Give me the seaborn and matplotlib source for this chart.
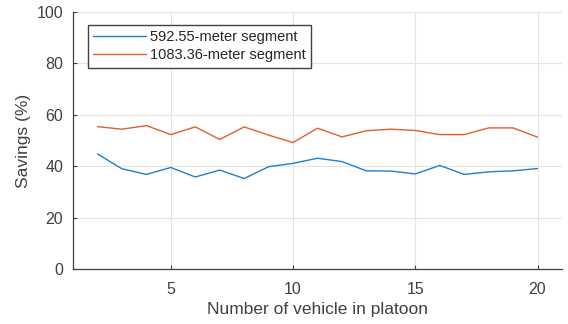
import matplotlib
matplotlib.use("Agg")
import matplotlib.pyplot as plt
import seaborn as sns
import pandas as pd

vehicles = list(range(2, 21))
savings_592 = [44.8, 39.0, 36.8, 39.5, 35.8, 38.5, 35.2, 39.8, 41.1, 43.1,
               41.8, 38.2, 38.1, 37.0, 40.3, 36.8, 37.8, 38.2, 39.1]
savings_1083 = [55.4, 54.4, 55.8, 52.3, 55.3, 50.4, 55.3, 52.1, 49.2, 54.8,
                51.4, 53.8, 54.4, 53.9, 52.3, 52.3, 54.9, 54.9, 51.3]
series_names = ["592.55-meter segment", "1083.36-meter segment"]
series_colors = ["#1f7fcc", "#e05f2c"]

df = pd.concat([
    pd.DataFrame({"n": vehicles, "savings": savings_592, "segment": series_names[0]}),
    pd.DataFrame({"n": vehicles, "savings": savings_1083, "segment": series_names[1]}),
])

sns.set_theme(style="whitegrid")
plt.rcParams["font.family"] = ["Liberation Sans", "DejaVu Sans"]

fig = plt.figure(figsize=(5.68, 3.24), dpi=100)
ax = fig.add_axes([73 / 568, 55 / 324, 489 / 568, 257 / 324])

sns.lineplot(data=df, x="n", y="savings", hue="segment", palette=series_colors,
             hue_order=series_names, linewidth=1.0, ax=ax)

ax.set_xlim(1, 21)
ax.set_ylim(0, 100)
ax.set_xticks([5, 10, 15, 20])
ax.set_yticks([0, 20, 40, 60, 80, 100])
ax.grid(True, color="#e3e3e3", linewidth=0.8)
ax.set_facecolor("white")

for side in ["top", "right"]:
    ax.spines[side].set_visible(False)
for side in ["left", "bottom"]:
    ax.spines[side].set_visible(True)
    ax.spines[side].set_color("#404040")
    ax.spines[side].set_linewidth(0.9)

ax.tick_params(axis="both", direction="in", length=3, width=0.8, color="#404040",
               labelsize=11.5, labelcolor="#404040", left=True, bottom=True)
ax.tick_params(axis="x", pad=9)
ax.tick_params(axis="y", pad=7)

ax.set_xlabel("Number of vehicle in platoon", fontsize=12.5, color="#404040", labelpad=4)
ax.set_ylabel("Savings (%)", fontsize=12.5, color="#404040", labelpad=4)

leg = ax.legend(loc="upper left", bbox_to_anchor=(15 / 489, 244 / 257), fontsize=10.5,
                frameon=True, fancybox=False, handlelength=3.6, handletextpad=0.3,
                borderpad=0.35, labelspacing=0.3, borderaxespad=0)
leg.get_frame().set_edgecolor("#404040")
leg.get_frame().set_linewidth(1.0)
leg.get_frame().set_alpha(1)
for t in leg.get_texts():
    t.set_color("#262626")

fig.savefig("out.png", dpi=100)
